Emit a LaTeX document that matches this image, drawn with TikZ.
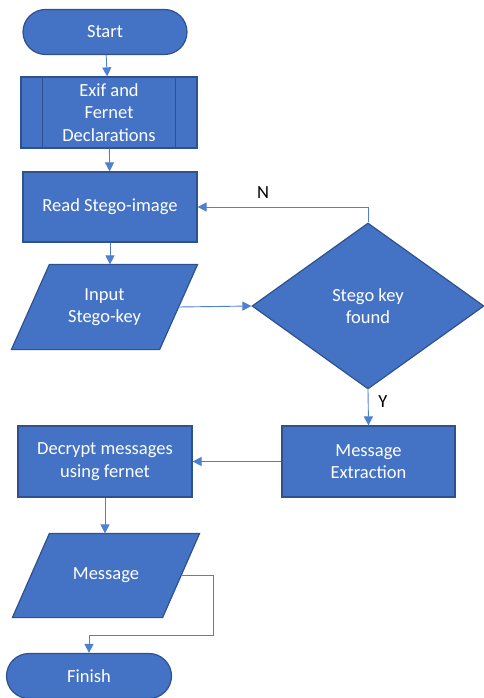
\documentclass[tikz,border=0pt]{standalone}
\usepackage{fontspec}
\setmainfont{Carlito}
\usetikzlibrary{shapes.geometric,shapes.misc,arrows.meta,backgrounds}
\definecolor{boxfill}{HTML}{4472C4}
\definecolor{boxline}{HTML}{2F528F}
\definecolor{connblue}{HTML}{4E7FD1}
\newcommand{\parallelo}[2]{%
  \begin{scope}[on background layer]
    \draw[fill=boxfill,draw=boxline,line width=1.2pt,line join=miter]
      ([xshift=#2]#1.north west) -- (#1.north east) --
      ([xshift=-#2]#1.south east) -- (#1.south west) -- cycle;
  \end{scope}}
\begin{document}
\begin{tikzpicture}[x=1pt,y=-1pt,
  base/.style={fill=boxfill,draw=boxline,line width=1.2pt,text=white,
    font=\fontsize{18.5}{22.5}\selectfont,align=center,inner sep=0pt},
  term/.style={base,rounded rectangle,minimum width=#1,minimum height=45pt},
  procbox/.style={base,rectangle},
  io/.style={base,rectangle,draw=none,fill=none},
  decision/.style={base,diamond},
  link/.style={draw=connblue,line width=0.9pt,-{Triangle[length=9pt,width=9pt]}},
  lbl/.style={font=\fontsize{18.5}{22.5}\selectfont,text=black}
]
\useasboundingbox (0,0) rectangle (483,698);

\node[term=164pt] (start) at (105,32) {Start};
\node[procbox,minimum width=176pt,minimum height=71pt] (exif) at (109,112.5) {Exif and\\Fernet\\Declarations};
\draw[boxline,line width=1.2pt] ([xshift=22pt]exif.north west) -- ([xshift=22pt]exif.south west);
\draw[boxline,line width=1.2pt] ([xshift=-22pt]exif.north east) -- ([xshift=-22pt]exif.south east);
\node[procbox,minimum width=174pt,minimum height=70pt] (read) at (110,207) {Read Stego-image};
\node[io,minimum width=185pt,minimum height=84pt] (input) at (104.5,307) {Input\\Stego-key};
\parallelo{input}{38pt}
\node[decision,minimum width=232pt,minimum height=166pt] (dec) at (368,306) {Stego key\\found};
\node[procbox,minimum width=173pt,minimum height=71pt] (extr) at (368.5,461.5) {Message\\Extraction};
\node[procbox,minimum width=174pt,minimum height=71pt] (decr) at (105,461.5) {Decrypt messages\\using fernet};
\node[io,minimum width=186pt,minimum height=83pt] (msg) at (106,575.5) {Message};
\parallelo{msg}{37pt}
\node[term=165pt] (fin) at (89,676) {Finish};

\coordinate (bend) at (213,635);

\draw[link] (start) -- (exif);
\draw[link] (exif) -- (read);
\draw[link] (read.south) -- (read.south |- input.north);
\draw[link] ([xshift=-19pt]input.east) -- (dec.west);
\draw[link] (dec.north) |- (read.east);
\draw[link] (dec.south) -- (extr.north);
\draw[link] (extr.west) -- (decr.east);
\draw[link] (decr.south) -- (decr.south |- msg.north);
\draw[link] ([xshift=-18.5pt]msg.east) -| (bend) -| (fin.north);

\node[lbl] (nlab) at (263,193) {N};
\node[lbl] (ylab) at (383,402) {Y};
\end{tikzpicture}
\end{document}
